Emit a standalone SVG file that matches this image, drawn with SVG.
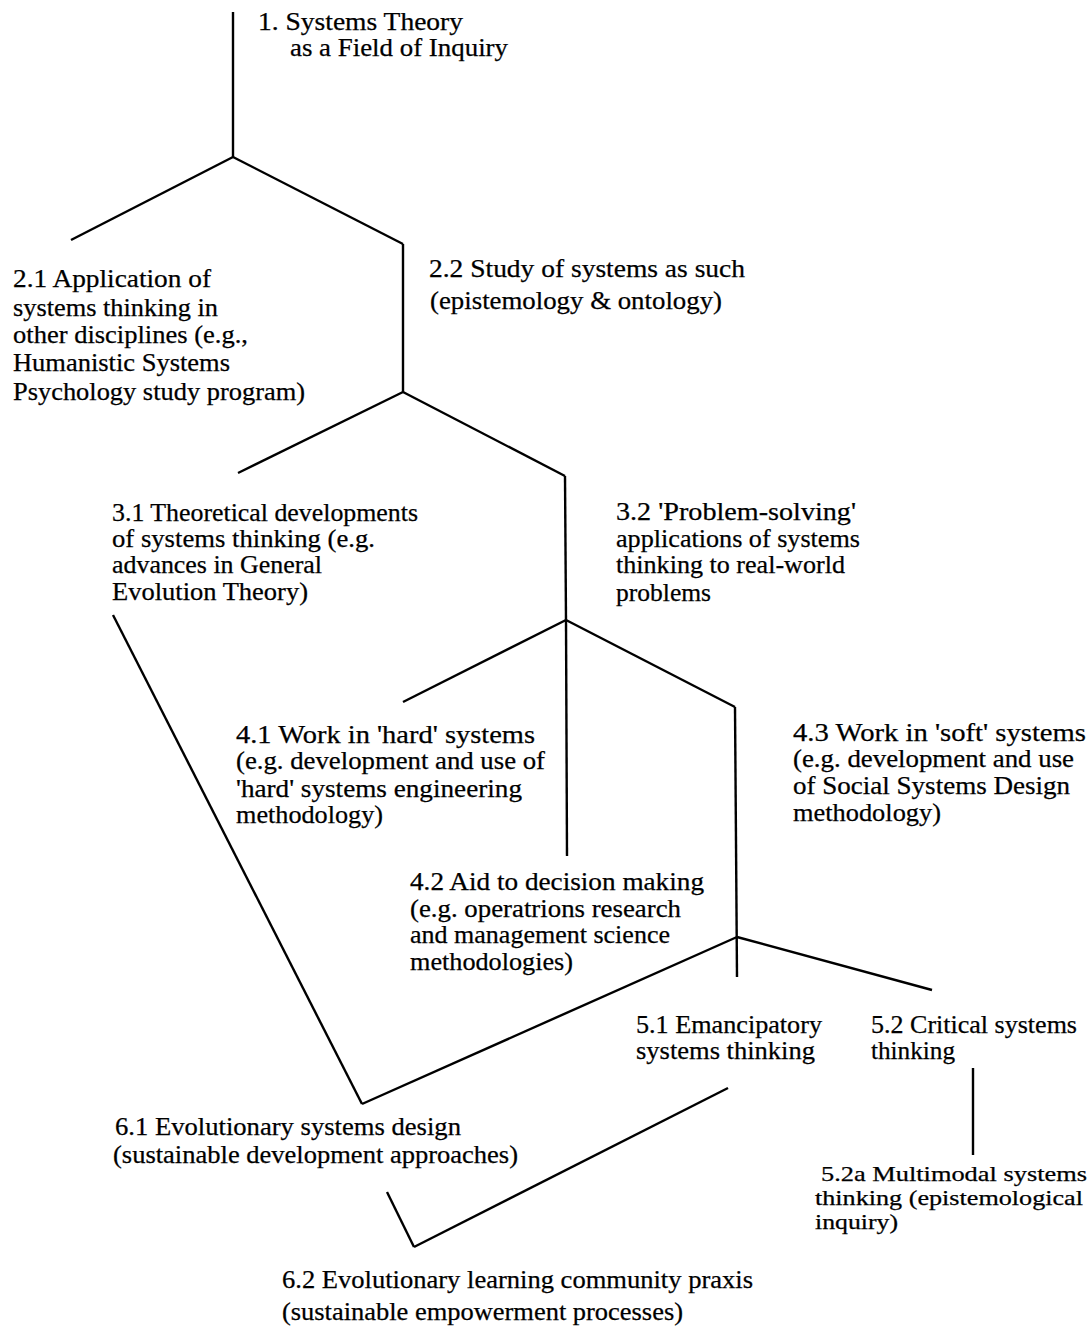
<svg xmlns="http://www.w3.org/2000/svg" width="1092" height="1327" viewBox="0 0 1092 1327">
<style>
.t{font-family:"Liberation Serif","Times New Roman",serif;font-size:25px;fill:#000;stroke:#000;stroke-width:0.25;}
.s{font-size:21px;}
.c line{stroke:#000;stroke-width:2.4;stroke-linecap:butt;}
</style>
<rect width="1092" height="1327" fill="#fff"/>
<g id="connectors" class="c">
<line x1="233" y1="12" x2="233" y2="157"/>
<line x1="233" y1="157" x2="71" y2="240"/>
<line x1="233" y1="157" x2="403" y2="244"/>
<line x1="403" y1="244" x2="403" y2="392"/>
<line x1="403" y1="392" x2="238" y2="473"/>
<line x1="403" y1="392" x2="565" y2="476"/>
<line x1="565" y1="476" x2="566" y2="620"/>
<line x1="566" y1="620" x2="403" y2="702"/>
<line x1="566" y1="620" x2="567" y2="856"/>
<line x1="566" y1="620" x2="735" y2="707"/>
<line x1="735" y1="707" x2="737" y2="977"/>
<line x1="737" y1="937" x2="932" y2="990"/>
<line x1="737" y1="937" x2="362" y2="1104"/>
<line x1="113" y1="615" x2="362" y2="1104"/>
<line x1="728" y1="1088" x2="414" y2="1247"/>
<line x1="414" y1="1247" x2="387" y2="1192"/>
<line x1="973" y1="1068" x2="973" y2="1155"/>
</g>
<g id="n1" class="t">
<text x="258" y="30" textLength="205" lengthAdjust="spacingAndGlyphs">1. Systems Theory</text>
<text x="290" y="56" textLength="218" lengthAdjust="spacingAndGlyphs">as a Field of Inquiry</text>
</g>
<g id="n2_1" class="t">
<text x="13" y="287" textLength="198" lengthAdjust="spacingAndGlyphs">2.1 Application of</text>
<text x="13" y="316" textLength="205" lengthAdjust="spacingAndGlyphs">systems thinking in</text>
<text x="13" y="343" textLength="235" lengthAdjust="spacingAndGlyphs">other disciplines (e.g.,</text>
<text x="13" y="371" textLength="217" lengthAdjust="spacingAndGlyphs">Humanistic Systems</text>
<text x="13" y="400" textLength="292" lengthAdjust="spacingAndGlyphs">Psychology study program)</text>
</g>
<g id="n2_2" class="t">
<text x="429" y="277" textLength="316" lengthAdjust="spacingAndGlyphs">2.2 Study of systems as such</text>
<text x="430" y="309" textLength="292" lengthAdjust="spacingAndGlyphs">(epistemology &amp; ontology)</text>
</g>
<g id="n3_1" class="t">
<text x="112" y="521" textLength="306" lengthAdjust="spacingAndGlyphs">3.1 Theoretical developments</text>
<text x="112" y="547" textLength="263" lengthAdjust="spacingAndGlyphs">of systems thinking (e.g.</text>
<text x="112" y="573" textLength="210" lengthAdjust="spacingAndGlyphs">advances in General</text>
<text x="112" y="600" textLength="196" lengthAdjust="spacingAndGlyphs">Evolution Theory)</text>
</g>
<g id="n3_2" class="t">
<text x="616" y="520" textLength="240" lengthAdjust="spacingAndGlyphs">3.2 'Problem-solving'</text>
<text x="616" y="547" textLength="244" lengthAdjust="spacingAndGlyphs">applications of systems</text>
<text x="616" y="573" textLength="229" lengthAdjust="spacingAndGlyphs">thinking to real-world</text>
<text x="616" y="601" textLength="95" lengthAdjust="spacingAndGlyphs">problems</text>
</g>
<g id="n4_1" class="t">
<text x="236" y="743" textLength="299" lengthAdjust="spacingAndGlyphs">4.1 Work in 'hard' systems</text>
<text x="236" y="769" textLength="309" lengthAdjust="spacingAndGlyphs">(e.g. development and use of</text>
<text x="236" y="797" textLength="286" lengthAdjust="spacingAndGlyphs">'hard' systems engineering</text>
<text x="236" y="823" textLength="147" lengthAdjust="spacingAndGlyphs">methodology)</text>
</g>
<g id="n4_2" class="t">
<text x="410" y="890" textLength="294" lengthAdjust="spacingAndGlyphs">4.2 Aid to decision making</text>
<text x="410" y="917" textLength="271" lengthAdjust="spacingAndGlyphs">(e.g. operatrions research</text>
<text x="410" y="943" textLength="260" lengthAdjust="spacingAndGlyphs">and management science</text>
<text x="410" y="970" textLength="163" lengthAdjust="spacingAndGlyphs">methodologies)</text>
</g>
<g id="n4_3" class="t">
<text x="793" y="741" textLength="293" lengthAdjust="spacingAndGlyphs">4.3 Work in 'soft' systems</text>
<text x="793" y="767" textLength="281" lengthAdjust="spacingAndGlyphs">(e.g. development and use</text>
<text x="793" y="794" textLength="277" lengthAdjust="spacingAndGlyphs">of Social Systems Design</text>
<text x="793" y="821" textLength="148" lengthAdjust="spacingAndGlyphs">methodology)</text>
</g>
<g id="n5_1" class="t">
<text x="636" y="1033" textLength="186" lengthAdjust="spacingAndGlyphs">5.1 Emancipatory</text>
<text x="636" y="1059" textLength="179" lengthAdjust="spacingAndGlyphs">systems thinking</text>
</g>
<g id="n5_2" class="t">
<text x="871" y="1033" textLength="206" lengthAdjust="spacingAndGlyphs">5.2 Critical systems</text>
<text x="871" y="1059" textLength="84" lengthAdjust="spacingAndGlyphs">thinking</text>
</g>
<g id="n5_2a" class="t s">
<text x="821" y="1181" textLength="266" lengthAdjust="spacingAndGlyphs">5.2a Multimodal systems</text>
<text x="815" y="1205" textLength="268" lengthAdjust="spacingAndGlyphs">thinking (epistemological</text>
<text x="815" y="1229" textLength="83" lengthAdjust="spacingAndGlyphs">inquiry)</text>
</g>
<g id="n6_1" class="t">
<text x="115" y="1135" textLength="346" lengthAdjust="spacingAndGlyphs">6.1 Evolutionary systems design</text>
<text x="113" y="1163" textLength="405" lengthAdjust="spacingAndGlyphs">(sustainable development approaches)</text>
</g>
<g id="n6_2" class="t">
<text x="282" y="1288" textLength="471" lengthAdjust="spacingAndGlyphs">6.2 Evolutionary learning community praxis</text>
<text x="282" y="1320" textLength="401" lengthAdjust="spacingAndGlyphs">(sustainable empowerment processes)</text>
</g>
</svg>
